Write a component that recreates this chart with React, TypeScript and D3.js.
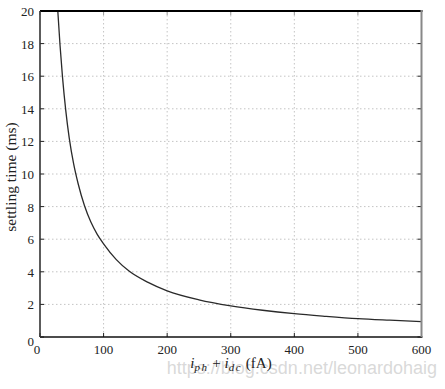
import React, { useEffect, useRef } from 'react';
import * as d3 from 'd3';

// values: current (fA) -> settling time (ms)
const currents = [28, 31.5, 35.5, 40.5, 46, 53, 60, 70, 80, 90, 100, 120, 140, 170, 200, 250, 300, 350, 400, 450, 500, 550, 600];
const settling = [20, 17.9, 15.9, 13.9, 12.2, 10.6, 9.4, 8.05, 7.05, 6.3, 5.72, 4.75, 4.05, 3.35, 2.83, 2.28, 1.91, 1.64, 1.43, 1.27, 1.13, 1.03, 0.94];
const xTicks = [0, 100, 200, 300, 400, 500, 600];
const yTicks = [0, 2, 4, 6, 8, 10, 12, 14, 16, 18, 20];

const W = 445;
const H = 389;
const FONT = '"Liberation Serif", "DejaVu Serif", serif';

const App = () => {
    const svgRef = useRef(null);

    useEffect(() => {
        const svg = d3.select(svgRef.current);
        svg.selectAll('*').remove();

        const margin = { top: 11, right: 23.5, bottom: 52, left: 40 };
        const x = d3.scaleLinear().domain([0, 600]).range([margin.left, W - margin.right]);
        const y = d3.scaleLinear().domain([0, 20]).range([H - margin.bottom, margin.top]);

        const x0 = x(0), x1 = x(600), y0 = y(0), y1 = y(20);

        svg.append('rect').attr('width', W).attr('height', H).attr('fill', '#fff');

        // dotted grid
        const grid = svg.append('g').attr('stroke', '#c4c4c4').attr('stroke-width', 1).attr('stroke-dasharray', '1.5,2.5');
        grid.selectAll('.gx').data(xTicks.slice(1, -1)).enter().append('line')
            .attr('x1', d => x(d)).attr('x2', d => x(d)).attr('y1', y1).attr('y2', y0);
        grid.selectAll('.gy').data(yTicks.slice(1, -1)).enter().append('line')
            .attr('x1', x0).attr('x2', x1).attr('y1', d => y(d)).attr('y2', d => y(d));

        // inward ticks
        const ticks = svg.append('g').attr('stroke', '#222').attr('stroke-width', 1);
        ticks.selectAll('.tl').data(yTicks).enter().append('line')
            .attr('x1', x0).attr('x2', x0 + 4).attr('y1', d => y(d)).attr('y2', d => y(d));
        ticks.selectAll('.tr').data(yTicks).enter().append('line')
            .attr('x1', x1).attr('x2', x1 - 4).attr('y1', d => y(d)).attr('y2', d => y(d));
        ticks.selectAll('.tb').data(xTicks).enter().append('line')
            .attr('x1', d => x(d)).attr('x2', d => x(d)).attr('y1', y0).attr('y2', y0 - 4);
        ticks.selectAll('.tt').data(xTicks).enter().append('line')
            .attr('stroke', '#999')
            .attr('x1', d => x(d)).attr('x2', d => x(d)).attr('y1', y1).attr('y2', y1 + 4);

        // curve
        const line = d3.line()
            .x((d, i) => x(currents[i]))
            .y(d => y(d))
            .curve(d3.curveMonotoneX);
        svg.append('path')
            .datum(settling)
            .attr('fill', 'none')
            .attr('stroke', '#2a2a2a')
            .attr('stroke-width', 1.3)
            .attr('d', line);

        // frame
        svg.append('line').attr('x1', x0).attr('x2', x1 + 1).attr('y1', y1).attr('y2', y1)
            .attr('stroke', '#000').attr('stroke-width', 2.2);
        svg.append('line').attr('x1', x0).attr('x2', x1 + 1).attr('y1', y0).attr('y2', y0)
            .attr('stroke', '#111').attr('stroke-width', 1.6);
        svg.append('line').attr('x1', x0).attr('x2', x0).attr('y1', y1).attr('y2', y0)
            .attr('stroke', '#333').attr('stroke-width', 1.6);
        svg.append('line').attr('x1', x1).attr('x2', x1).attr('y1', y1 - 1).attr('y2', y0)
            .attr('stroke', '#888').attr('stroke-width', 2);

        // tick labels
        svg.selectAll('.yl').data(yTicks).enter().append('text')
            .attr('x', 34).attr('y', d => y(d) + (d === 0 ? 9 : 5))
            .attr('text-anchor', 'end')
            .attr('font-family', FONT).attr('font-size', 13).attr('fill', '#222')
            .text(d => d);
        svg.selectAll('.xl').data(xTicks).enter().append('text')
            .attr('x', d => x(d) - (d === 0 ? 3 : 0)).attr('y', y0 + 17)
            .attr('text-anchor', 'middle')
            .attr('font-family', FONT).attr('font-size', 13).attr('fill', '#222')
            .text(d => d);

        // axis labels
        svg.append('text')
            .attr('transform', `translate(16,${(y0 + y1) / 2 + 3}) rotate(-90)`)
            .attr('text-anchor', 'middle')
            .attr('font-family', FONT).attr('font-size', 15.5).attr('fill', '#222')
            .text('settling time (ms)');

        // watermark (drawn under the label)
        svg.append('text')
            .attr('x', 437).attr('y', 374)
            .attr('text-anchor', 'end')
            .attr('font-family', '"Liberation Sans", Arial, sans-serif').attr('font-size', 18)
            .attr('fill', '#d2d2d2').attr('fill-opacity', 0.85)
            .text('https://blog.csdn.net/leonardohaig');

        const xl = svg.append('text')
            .attr('x', 231).attr('y', 368)
            .attr('text-anchor', 'middle')
            .attr('font-family', FONT).attr('font-size', 15).attr('fill', '#222');
        xl.append('tspan').attr('font-style', 'italic').text('i');
        xl.append('tspan').attr('font-style', 'italic').attr('font-size', 11)
            .attr('letter-spacing', 1.5).attr('dy', 3).text('ph');
        xl.append('tspan').attr('dy', -3).text(' + ');
        xl.append('tspan').attr('font-style', 'italic').text('i');
        xl.append('tspan').attr('font-style', 'italic').attr('font-size', 11)
            .attr('letter-spacing', 1.5).attr('dy', 3).text('dc');
        xl.append('tspan').attr('dy', -3).text(' (fA)');
    }, []);

    return (
        <svg ref={svgRef} width={W} height={H}
            style={{ position: 'absolute', left: 0, top: 0, display: 'block' }} />
    );
};

export default App;
